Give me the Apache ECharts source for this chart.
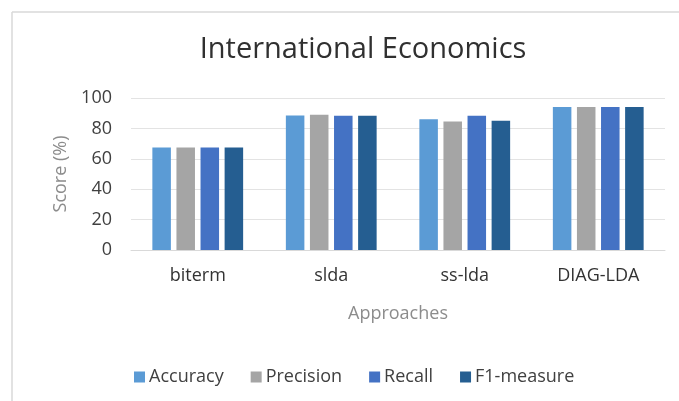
<!DOCTYPE html>
<html>
<head>
<meta charset="utf-8">
<script src="https://cdn.jsdelivr.net/npm/echarts@6/dist/echarts.min.js"></script>
<style>
  html, body { margin: 0; padding: 0; background: #fff; }
  #chart { width: 679px; height: 401px; }
</style>
</head>
<body>
<div id="chart"></div>
<script>
// Scores (%) of each topic-model approach
const categories = ['biterm', 'slda', 'ss-lda', 'DIAG-LDA'];
const accuracy  = [67.5, 88.5, 86.0, 94.0];
const precision = [67.5, 89.0, 84.5, 94.0];
const recall    = [67.5, 88.3, 88.3, 94.0];
const f1measure = [67.5, 88.3, 85.0, 94.0];
const seriesNames = ['Accuracy', 'Precision', 'Recall', 'F1-measure'];
const yTicks = [0, 20, 40, 60, 80, 100];

const colors = ['#5B9BD5', '#A5A5A5', '#4472C4', '#255E91'];
const font = '"Open Sans", "Noto Sans", sans-serif';

const chart = echarts.init(document.getElementById('chart'), null, { renderer: 'canvas' });

const values = [accuracy, precision, recall, f1measure];

chart.setOption({
  animation: false,
  color: colors,
  textStyle: { fontFamily: font },
  title: {
    text: 'International Economics',
    left: 358,
    top: 30,
    textAlign: 'center',
    textStyle: { fontFamily: font, fontSize: 29, fontWeight: 'normal', color: '#303030' }
  },
  graphic: [
    { type: 'line', shape: { x1: 12, y1: 12, x2: 679, y2: 12 }, style: { stroke: '#d9d9d9', lineWidth: 1.5 } },
    { type: 'line', shape: { x1: 12, y1: 12, x2: 12, y2: 401 }, style: { stroke: '#d9d9d9', lineWidth: 1.5 } }
  ],
  legend: {
    data: seriesNames,
    left: 129,
    top: 363,
    itemWidth: 11,
    itemHeight: 11,
    itemGap: 27,
    icon: 'rect',
    textStyle: { fontFamily: font, fontSize: 18, color: '#404040', padding: [0, 0, 0, -1] }
  },
  grid: { left: 131, right: 14, top: 98, bottom: 151 },
  xAxis: {
    type: 'category',
    data: categories,
    name: 'Approaches',
    nameLocation: 'middle',
    nameGap: 55,
    nameTextStyle: { fontFamily: font, fontSize: 18, color: '#8c8c8c' },
    axisLine: { show: true, lineStyle: { color: '#d9d9d9' } },
    axisTick: { show: false },
    axisLabel: { fontFamily: font, fontSize: 18, color: '#333333', margin: 17 }
  },
  yAxis: {
    type: 'value',
    min: yTicks[0],
    max: yTicks[yTicks.length - 1],
    interval: 20,
    name: 'Score (%)',
    nameLocation: 'middle',
    nameGap: 60,
    nameRotate: 90,
    nameTextStyle: { fontFamily: font, fontSize: 18, color: '#8c8c8c' },
    axisLine: { show: false },
    axisTick: { show: false },
    splitLine: { lineStyle: { color: '#e3e3e3', width: 1 } },
    axisLabel: { fontFamily: font, fontSize: 18, color: '#404040', margin: 19 }
  },
  series: seriesNames.map((name, i) => ({
    name: name,
    type: 'bar',
    data: values[i],
    barGap: '30%',
    barCategoryGap: '32%',
    itemStyle: { color: colors[i] }
  }))
});
</script>
</body>
</html>
